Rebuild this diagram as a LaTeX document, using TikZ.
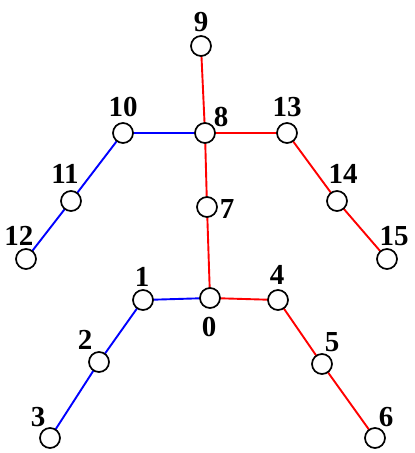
\documentclass[tikz,border=0pt]{standalone}
\usepackage{fontspec}
\setmainfont{Liberation Serif}
\usepackage{tikz}

\tikzset{
    joint/.style={circle, draw=black, line width=1.7pt, fill=white, minimum size=20pt, inner sep=0pt},
    lbl/.style={font=\fontsize{29}{29}\selectfont\bfseries, inner sep=0pt},
    bluebone/.style={draw=blue, line width=1.9pt},
    redbone/.style={draw=red, line width=1.9pt}
}

\begin{document}
\begin{tikzpicture}[x=1pt, y=-1pt]
    \useasboundingbox (0,0) rectangle (415,453);

    % Joints
    \coordinate (p0) at (210,298);
    \coordinate (p1) at (143,300);
    \coordinate (p2) at (99,362);
    \coordinate (p3) at (50,438);
    \coordinate (p4) at (278,300);
    \coordinate (p5) at (322,364);
    \coordinate (p6) at (375,438);
    \coordinate (p7) at (207,207);
    \coordinate (p8) at (205,133);
    \coordinate (p9) at (201,46);
    \coordinate (p10) at (123,133);
    \coordinate (p11) at (71,201);
    \coordinate (p12) at (26,259);
    \coordinate (p13) at (287,133);
    \coordinate (p14) at (337,201);
    \coordinate (p15) at (387,259);

    % Bones
    \draw[bluebone] (p3) -- (p2) -- (p1) -- (p0);
    \draw[bluebone] (p12) -- (p11) -- (p10) -- (p8);
    \draw[redbone] (p0) -- (p4) -- (p5) -- (p6);
    \draw[redbone] (p0) -- (p7) -- (p8) -- (p9);
    \draw[redbone] (p8) -- (p13) -- (p14) -- (p15);

    \foreach \i in {0,...,15}
        \node[joint] (j\i) at (p\i) {};

    % Labels
    \node[lbl] (l0) at (209,327) {0};
    \node[lbl] (l1) at (142,277) {1};
    \node[lbl] (l2) at (85,340) {2};
    \node[lbl] (l3) at (38,417) {3};
    \node[lbl] (l4) at (277,275) {4};
    \node[lbl] (l5) at (332,342) {5};
    \node[lbl] (l6) at (386,417) {6};
    \node[lbl] (l7) at (227,209) {7};
    \node[lbl] (l8) at (221,117) {8};
    \node[lbl] (l9) at (201,22) {9};
    \node[lbl] (l10) at (123,107) {10};
    \node[lbl] (l11) at (65,174) {11};
    \node[lbl] (l12) at (19,236) {12};
    \node[lbl] (l13) at (287,107) {13};
    \node[lbl] (l14) at (343,174) {14};
    \node[lbl] (l15) at (394,236) {15};
\end{tikzpicture}
\end{document}
